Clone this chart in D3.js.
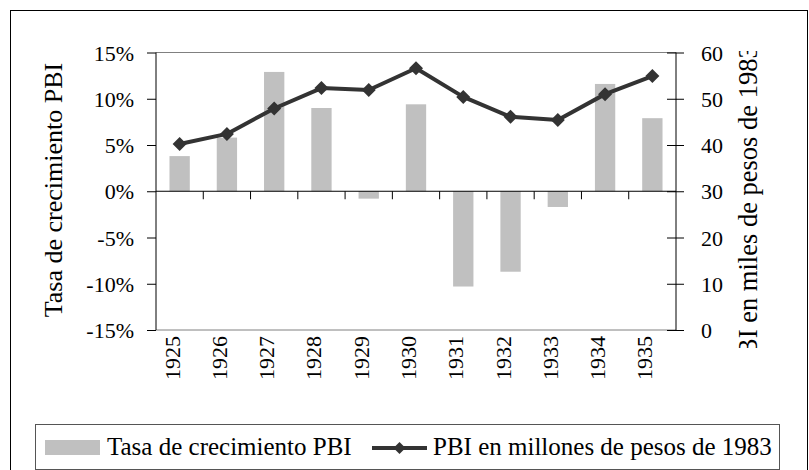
<!DOCTYPE html>
<html>
<head>
<meta charset="utf-8">
<script src="https://cdn.jsdelivr.net/npm/d3@7"></script>
<style>
  body { margin: 0; background: #fff; }
</style>
</head>
<body>
<div id="graf"></div>
<script>
// Data
const years = ["1925", "1926", "1927", "1928", "1929", "1930", "1931", "1932", "1933", "1934", "1935"];
const growth = [3.8, 5.8, 12.9, 9.0, -0.8, 9.4, -10.3, -8.7, -1.7, 11.6, 7.9];   // %
const pbi = [40.2, 42.4, 47.9, 52.3, 51.9, 56.6, 50.4, 46.1, 45.4, 51.0, 54.9];  // miles de pesos
const leftTicks = [-15, -10, -5, 0, 5, 10, 15];
const rightTicks = [0, 10, 20, 30, 40, 50, 60];

const FONT = "'Liberation Serif', 'Times New Roman', serif";

const svg = d3.select("#graf")
  .append("svg")
  .attr("width", 809)
  .attr("height", 470)
  .style("font-family", FONT);

// outer chart border
svg.append("rect")
  .attr("x", 10.5).attr("y", 10.5)
  .attr("width", 797).attr("height", 480)
  .attr("fill", "none").attr("stroke", "#000");

const plot = { left: 156, right: 676, top: 52.5, bottom: 330 };

const x = d3.scaleBand()
  .domain(years)
  .range([plot.left, plot.right])
  .paddingInner(0.57)
  .paddingOuter(0.285);

const yL = d3.scaleLinear().domain([-15, 15]).range([plot.bottom, plot.top]);
const yR = d3.scaleLinear().domain([0, 60]).range([plot.bottom, plot.top]);

// plot area border (top / bottom grey)
svg.append("line")
  .attr("x1", plot.left).attr("x2", plot.right)
  .attr("y1", plot.top).attr("y2", plot.top)
  .attr("stroke", "#808080");
svg.append("line")
  .attr("x1", plot.left).attr("x2", plot.right)
  .attr("y1", plot.bottom).attr("y2", plot.bottom)
  .attr("stroke", "#808080");

// bars
svg.append("g")
  .selectAll("rect")
  .data(growth)
  .join("rect")
  .attr("x", (d, i) => x(years[i]))
  .attr("width", x.bandwidth())
  .attr("y", d => yL(Math.max(0, d)))
  .attr("height", d => Math.abs(yL(d) - yL(0)))
  .attr("fill", "#c0c0c0");

// left axis
const axL = svg.append("g")
  .attr("transform", `translate(${plot.left},0)`)
  .call(d3.axisLeft(yL).tickValues(leftTicks).tickSize(9).tickPadding(13).tickFormat(d => d + "%"));
axL.attr("font-family", null).style("font-family", FONT);
axL.select(".domain").attr("d", `M0,${plot.top}V${plot.bottom}`);
axL.selectAll("text")
  .attr("font-size", 22).attr("fill", "#000").attr("dy", "0.35em")
  .style("font-family", FONT);

// right axis
const axR = svg.append("g")
  .attr("transform", `translate(${plot.right},0)`)
  .call(d3.axisRight(yR).tickValues(rightTicks).tickSize(8).tickPadding(17));
axR.attr("font-family", null).style("font-family", FONT);
axR.select(".domain").attr("d", `M0,${plot.top}V${plot.bottom}`);
axR.selectAll(".tick line").attr("x1", -9);
axR.selectAll("text")
  .attr("font-size", 22).attr("fill", "#000").attr("dy", "0.35em")
  .style("font-family", FONT);

// zero line with ticks between categories
const zeroY = yL(0);
svg.append("line")
  .attr("x1", plot.left).attr("x2", plot.right)
  .attr("y1", zeroY).attr("y2", zeroY)
  .attr("stroke", "#000");
svg.append("g")
  .selectAll("line")
  .data(years.slice(1))
  .join("line")
  .attr("x1", d => x(d) - x.step() * x.paddingInner() / 2)
  .attr("x2", d => x(d) - x.step() * x.paddingInner() / 2)
  .attr("y1", zeroY).attr("y2", zeroY + 8)
  .attr("stroke", "#000");

// category labels, rotated
svg.append("g")
  .selectAll("text")
  .data(years)
  .join("text")
  .attr("transform", d => `translate(${x(d) + x.bandwidth() / 2},336) rotate(-90)`)
  .attr("text-anchor", "end")
  .attr("font-size", 22)
  .style("font-family", FONT)
  .text(d => d);

// line series
const line = d3.line()
  .x((d, i) => x(years[i]) + x.bandwidth() / 2)
  .y(d => yR(d));

svg.append("path")
  .datum(pbi)
  .attr("d", line)
  .attr("fill", "none")
  .attr("stroke", "#333")
  .attr("stroke-width", 4)
  .attr("stroke-linejoin", "round");

const diamond = r => `M0,${-r}L${r},0L0,${r}L${-r},0Z`;
svg.append("g")
  .selectAll("path")
  .data(pbi)
  .join("path")
  .attr("transform", (d, i) => `translate(${x(years[i]) + x.bandwidth() / 2},${yR(d)})`)
  .attr("d", diamond(7))
  .attr("fill", "#333");

// axis titles
svg.append("text")
  .attr("transform", `translate(62,190) rotate(-90)`)
  .attr("text-anchor", "middle")
  .attr("font-size", 26)
  .style("font-family", FONT)
  .text("Tasa de crecimiento PBI");

// right title is clipped at both ends in the original
svg.append("clipPath").attr("id", "rclip")
  .append("rect").attr("x", 700).attr("y", 51).attr("width", 100).attr("height", 297);
svg.append("g")
  .attr("clip-path", "url(#rclip)")
  .append("text")
  .attr("transform", `translate(757,208) rotate(-90)`)
  .attr("text-anchor", "middle")
  .attr("font-size", 26.5)
  .style("font-family", FONT)
  .text("PBI en miles de pesos de 1983");

// legend
const lg = svg.append("g");
lg.append("rect")
  .attr("x", 35.5).attr("y", 424.5)
  .attr("width", 744).attr("height", 45)
  .attr("fill", "#fff").attr("stroke", "#555");
lg.append("rect")
  .attr("x", 45).attr("y", 440).attr("width", 55).attr("height", 15)
  .attr("fill", "#c0c0c0");
lg.append("text")
  .attr("x", 107).attr("y", 455)
  .attr("font-size", 25)
  .style("font-family", FONT)
  .text("Tasa de crecimiento PBI");
lg.append("line")
  .attr("x1", 372).attr("x2", 427).attr("y1", 448).attr("y2", 448)
  .attr("stroke", "#333").attr("stroke-width", 4);
lg.append("path")
  .attr("transform", "translate(399.5,448)")
  .attr("d", diamond(6))
  .attr("fill", "#333");
lg.append("text")
  .attr("x", 433).attr("y", 455)
  .attr("font-size", 25)
  .style("font-family", FONT)
  .text("PBI en millones de pesos de 1983");
</script>
</body>
</html>
